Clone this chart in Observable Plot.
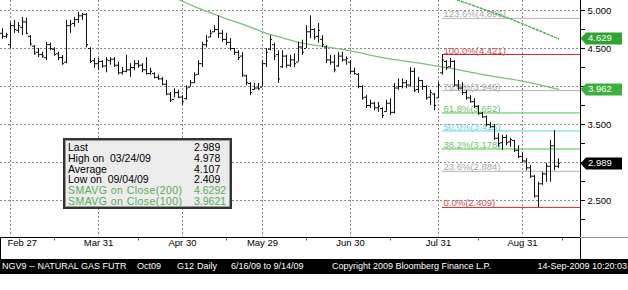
<!DOCTYPE html>
<html><head><meta charset="utf-8">
<script src="https://cdn.jsdelivr.net/npm/d3@7"></script>
<script src="https://cdn.jsdelivr.net/npm/@observablehq/plot@0.6"></script>
<style>
body{margin:0;background:#fff;width:628px;height:290px;overflow:hidden;font-family:"Liberation Sans",Arial,sans-serif;}
#wrap{position:relative;width:628px;height:290px;}
#chart{position:absolute;left:0;top:0;}
#legend{position:absolute;left:63px;top:138px;width:165px;height:67px;background:#ececec;border:2px solid #333;box-shadow:inset 0 0 0 1px #999;font-size:10.5px;}
#legend div{position:absolute;white-space:pre;line-height:11px;}
#band{position:absolute;left:0;top:259px;width:628px;height:15px;background:#000;color:#fff;font-size:9px;}
#band span{position:absolute;top:1px;line-height:13px;white-space:pre;}
</style></head>
<body><div id="wrap"><div id="chart"></div><div id="legend"></div><div id="band"></div></div>
<script>
// Daily OHLC bars, one per trading day (Feb 25 2009 .. Sep 14 2009)
const highs = [4.76,4.70,4.84,4.87,4.84,4.91,4.90,4.67,4.54,4.50,
4.45,4.58,4.57,4.51,4.45,4.41,4.87,4.87,4.91,4.978,
4.96,4.96,4.51,4.37,4.37,4.34,4.38,4.38,4.38,4.32,
4.25,4.41,4.30,4.34,4.34,4.30,4.38,4.24,4.18,4.15,
4.12,4.08,3.92,3.97,3.95,3.88,4.01,4.08,4.18,4.34,
4.58,4.67,4.74,4.80,4.93,4.74,4.70,4.63,4.50,4.47,
4.45,4.15,4.05,4.04,4.04,4.34,4.50,4.67,4.57,4.47,
4.47,4.41,4.41,4.43,4.58,4.61,4.80,4.93,4.76,4.83,
4.67,4.54,4.41,4.41,4.45,4.45,4.39,4.34,4.24,4.17,
4.01,3.88,3.82,3.79,3.79,3.72,3.82,3.84,4.04,4.10,
4.10,4.08,4.25,4.24,4.12,4.08,4.01,3.95,3.91,4.05,
4.421,4.34,4.37,4.34,4.08,4.05,3.95,3.88,3.84,3.75,
3.66,3.61,3.53,3.50,3.38,3.36,3.36,3.32,3.29,3.22,
3.13,3.05,2.96,2.83,2.74,2.87,2.99,3.29,3.42,3.05];
const lows = [4.62,4.63,4.50,4.70,4.70,4.67,4.68,4.53,4.41,4.38,
4.37,4.34,4.47,4.40,4.34,4.28,4.30,4.70,4.78,4.83,
4.87,4.51,4.30,4.24,4.21,4.24,4.18,4.28,4.25,4.15,
4.15,4.18,4.12,4.21,4.24,4.18,4.15,4.15,4.10,4.08,
4.01,3.88,3.79,3.85,3.84,3.75,3.82,3.99,4.04,4.15,
4.25,4.51,4.64,4.71,4.63,4.58,4.54,4.47,4.41,4.34,
4.12,4.01,3.88,3.95,3.95,3.99,4.25,4.47,4.34,4.04,
4.24,4.24,4.25,4.25,4.32,4.41,4.50,4.63,4.61,4.57,
4.51,4.30,4.28,4.18,4.25,4.32,4.28,4.15,4.15,3.97,
3.82,3.71,3.71,3.68,3.66,3.58,3.66,3.62,3.64,3.95,
3.97,3.97,3.99,3.92,3.91,3.95,3.82,3.75,3.68,3.84,
4.15,4.21,4.24,3.99,3.95,3.88,3.82,3.78,3.71,3.62,
3.58,3.47,3.45,3.29,3.20,3.16,3.22,3.20,3.13,3.05,
2.99,2.89,2.79,2.53,2.409,2.70,2.74,2.74,2.89,2.92];
const opens = [4.70,4.66,4.55,4.80,4.74,4.78,4.85,4.66,4.53,4.45,
4.42,4.38,4.55,4.49,4.43,4.38,4.32,4.80,4.83,4.88,
4.93,4.95,4.50,4.34,4.30,4.33,4.27,4.34,4.36,4.28,
4.18,4.20,4.22,4.25,4.30,4.28,4.22,4.17,4.17,4.12,
4.10,4.03,3.90,3.83,3.92,3.86,3.84,3.99,4.05,4.16,
4.30,4.55,4.65,4.72,4.75,4.70,4.62,4.58,4.50,4.45,
4.40,4.14,4.04,3.96,3.98,3.99,4.30,4.49,4.55,4.42,
4.26,4.40,4.28,4.35,4.32,4.52,4.50,4.72,4.75,4.66,
4.62,4.52,4.35,4.32,4.27,4.40,4.35,4.32,4.20,4.16,
4.00,3.86,3.75,3.78,3.72,3.71,3.67,3.78,3.66,3.98,
4.00,4.05,4.02,4.20,3.96,4.08,4.00,3.86,3.90,3.85,
4.18,4.33,4.26,4.33,4.02,3.98,3.92,3.85,3.80,3.74,
3.65,3.60,3.50,3.47,3.32,3.26,3.33,3.27,3.29,3.16,
3.08,3.02,2.93,2.82,2.56,2.72,2.85,2.95,3.22,2.95];
const closes = [4.66,4.68,4.80,4.75,4.80,4.85,4.70,4.56,4.44,4.42,
4.40,4.55,4.50,4.42,4.38,4.30,4.80,4.82,4.88,4.93,
4.95,4.55,4.33,4.30,4.33,4.27,4.35,4.36,4.28,4.18,
4.20,4.22,4.25,4.30,4.28,4.22,4.17,4.20,4.12,4.10,
4.03,3.90,3.82,3.92,3.86,3.80,3.98,4.05,4.15,4.30,
4.55,4.60,4.70,4.75,4.70,4.62,4.58,4.50,4.45,4.38,
4.15,4.05,3.92,3.98,3.97,4.30,4.45,4.62,4.40,4.10,
4.40,4.28,4.35,4.30,4.52,4.45,4.72,4.75,4.65,4.74,
4.55,4.35,4.32,4.22,4.40,4.35,4.37,4.20,4.17,4.00,
3.85,3.75,3.78,3.72,3.74,3.62,3.78,3.66,3.98,4.00,
4.05,4.02,4.20,3.95,4.08,4.00,3.85,3.92,3.75,4.02,
4.35,4.25,4.33,4.02,3.98,3.92,3.85,3.80,3.74,3.65,
3.60,3.50,3.47,3.32,3.25,3.33,3.26,3.30,3.16,3.08,
3.02,2.93,2.82,2.56,2.72,2.85,2.95,3.22,2.95,2.989];

// Moving averages (bar index, value)
const sma100Idx = [44,49,54,62,66,70,74,80,87,94,105,115,122,130,139];
const sma100Val = [5.145,5.03,4.93,4.78,4.70,4.64,4.58,4.53,4.47,4.39,4.30,4.21,4.14,4.07,3.962];
const sma200Idx = [110,127,139];
const sma200Val = [5.21,4.89,4.629];

// Fibonacci retracement levels
const fibPct = ["0.0%","23.6%","38.2%","50.0%","61.8%","76.4%","100.0%","123.6%"];
const fibVal = [2.409,2.884,3.178,3.415,3.652,3.946,4.421,4.896];
const fibLine = ["#cc2a2a","#b4b4b4","#4cc44c","#5fd6e6","#4cc44c","#b4b4b4","#cc2a2a","#b4b4b4"];
const fibText = ["#d05050","#a8a8a8","#6cc46c","#70d0e0","#6cc46c","#a8a8a8","#d05050","#a8a8a8"];
const fibStartIdx = 110;

// Axes (4.000 and 3.000 labels sit under the price tags)
const monthIdx = [2,24,45,65,87,109,130];
const monthLabels = ["Feb 27","Mar 31","Apr 30","May 29","Jun 30","Jul 31","Aug 31"];
const minorIdx = [13,34,56,76,97,119,140];
const yTicks = [5.0,4.75,4.5,4.25,4.0,3.75,3.5,3.25,3.0,2.75,2.5,2.25];
const yTickLabels = ["5.000","","4.500","","","","3.500","","","","2.500",""];
const yGrid = [5.0,4.5,4.0,3.5,3.0,2.5];

// Price tags on right axis
const tagVal = [4.629,3.962,2.989];
const tagFill = ["#2fa52f","#3cb03c","#000000"];

// Legend rows
const legLabels = ["Last","High on  03/24/09","Average","Low on  09/04/09","SMAVG on Close(200)","SMAVG on Close(100)"];
const legValues = ["2.989","4.978","4.107","2.409","4.6292","3.9621"];
const legColors = ["#000","#000","#000","#000","#5aaa5a","#5aaa5a"];

const bars = highs.map((h,i)=>({i, high:h, low:lows[i], open:opens[i], close:closes[i]}));
const sma100 = sma100Idx.map((i,k)=>({i, v:sma100Val[k]}));
const sma200 = sma200Idx.map((i,k)=>({i, v:sma200Val[k]}));
const fib = fibVal.map((v,k)=>({v, label:`${fibPct[k]}(${v.toFixed(3)})`, line:fibLine[k], text:fibText[k]}));
const months = monthIdx.map((i,k)=>({i, label:monthLabels[k]}));
const tickLab = new Map(yTicks.map((t,k)=>[t,yTickLabels[k]]));

const X0 = -0.5, X1 = 144.5, Y0 = 2.0132, Y1 = 5.1316;

const plot = Plot.plot({
  width: 628, height: 259,
  marginTop: 0, marginLeft: 0, marginRight: 48, marginBottom: 22,
  style: {fontFamily: "'Liberation Sans', Arial, sans-serif", fontSize: "9.5px", background: "transparent", color: "#000"},
  x: {domain: [X0, X1], axis: null},
  y: {domain: [Y0, Y1], axis: "right", ticks: yTicks, tickFormat: d => tickLab.get(d) ?? "", tickSize: 4, tickPadding: 3, label: null},
  marks: [
    Plot.ruleY(yGrid, {stroke: "#8a8a8a", strokeDasharray: "2,2"}),
    Plot.ruleX(monthIdx, {stroke: "#8a8a8a", strokeDasharray: "2,2"}),
    Plot.ruleY(fib, {y: "v", x1: fibStartIdx, x2: X1, stroke: d => d.line, strokeWidth: 1}),
    Plot.text(fib, {x: fibStartIdx, y: "v", text: "label", fill: d => d.text, textAnchor: "start", lineAnchor: "bottom", dx: 1, dy: -1, fontSize: 9.5}),
    Plot.line(sma100, {x: "i", y: "v", stroke: "#80bb80", strokeWidth: 1.3, curve: "monotone-x", clip: true}),
    Plot.line(sma200, {x: "i", y: "v", stroke: "#58aa58", strokeWidth: 1.5, strokeDasharray: "2,2", clip: true}),
    Plot.ruleX(bars, {x: "i", y1: "low", y2: "high", stroke: "#111", strokeWidth: 1}),
    Plot.ruleY(bars, {y: "open", x1: d => d.i - 0.5, x2: "i", stroke: "#111", strokeWidth: 1}),
    Plot.ruleY(bars, {y: "close", x1: "i", x2: d => d.i + 0.5, stroke: "#111", strokeWidth: 1}),
    Plot.ruleY([Y0], {stroke: "#000"}),
    Plot.ruleX([X1], {stroke: "#000"}),
    Plot.text(months.slice(0,1), {x: "i", text: "label", frameAnchor: "bottom", textAnchor: "start", dx: -3, dy: 8, fontSize: 9.5}),
    Plot.text(months.slice(1), {x: "i", text: "label", frameAnchor: "bottom", dy: 8, fontSize: 9.5})
  ]
});
document.getElementById("chart").appendChild(plot);

const svg = d3.select(plot);
const xs = plot.scale("x"), ys = plot.scale("y");
const xr = Math.round(xs.apply(X1)) + 0.5, yb = Math.round(ys.apply(Y0)) + 0.5;
// frame of the date strip
svg.append("line").attr("x1", xr).attr("x2", xr).attr("y1", yb).attr("y2", 259).attr("stroke", "#000");
svg.append("line").attr("x1", 0.5).attr("x2", 0.5).attr("y1", yb).attr("y2", 259).attr("stroke", "#000");
svg.append("line").attr("x1", xr).attr("x2", 628).attr("y1", yb).attr("y2", yb).attr("stroke", "#999");
// minor date ticks
minorIdx.forEach(i => {
  const x = Math.round(xs.apply(i)) + 0.5;
  svg.append("line").attr("x1", x).attr("x2", x).attr("y1", yb).attr("y2", yb + 3).attr("stroke", "#555");
});
// price tags
tagVal.forEach((v,k) => {
  const cy = Math.round(ys.apply(v));
  svg.append("path")
    .attr("d", `M${xr},${cy + 0.5}L${xr + 5.5},${cy - 5.5}L622,${cy - 5.5}L622,${cy + 6.5}L${xr + 5.5},${cy + 6.5}Z`)
    .attr("fill", tagFill[k]);
  svg.append("text").attr("x", 588).attr("y", cy + 0.5).attr("dy", "0.25em")
    .attr("text-anchor", "start").attr("fill", "#fff").attr("font-size", "9.5px").text(v.toFixed(3));
});

// legend box
const leg = document.getElementById("legend");
legLabels.forEach((l,k) => {
  const a = document.createElement("div");
  a.style.left = "3px"; a.style.top = (2 + k * 10.8) + "px"; a.style.color = legColors[k]; a.textContent = l;
  if (k >= 4) a.style.letterSpacing = "0.45px";
  const b = document.createElement("div");
  b.style.left = "129px"; b.style.top = (2 + k * 10.8) + "px"; b.style.color = legColors[k]; b.textContent = legValues[k];
  leg.appendChild(a); leg.appendChild(b);
});

// bottom band
const bandTexts = [["NGV9 -- NATURAL GAS FUTR", 2], ["Oct09", 137], ["G12", 177], ["Daily", 197], ["6/16/09 to 9/14/09", 231], ["Copyright 2009 Bloomberg Finance L.P.", 332]];
const band = document.getElementById("band");
bandTexts.forEach(([t,x]) => { const s = document.createElement("span"); s.style.left = x + "px"; s.textContent = t; band.appendChild(s); });
const r = document.createElement("span"); r.style.right = "1px"; r.textContent = "14-Sep-2009 10:20:03"; band.appendChild(r);
</script>
</body></html>
